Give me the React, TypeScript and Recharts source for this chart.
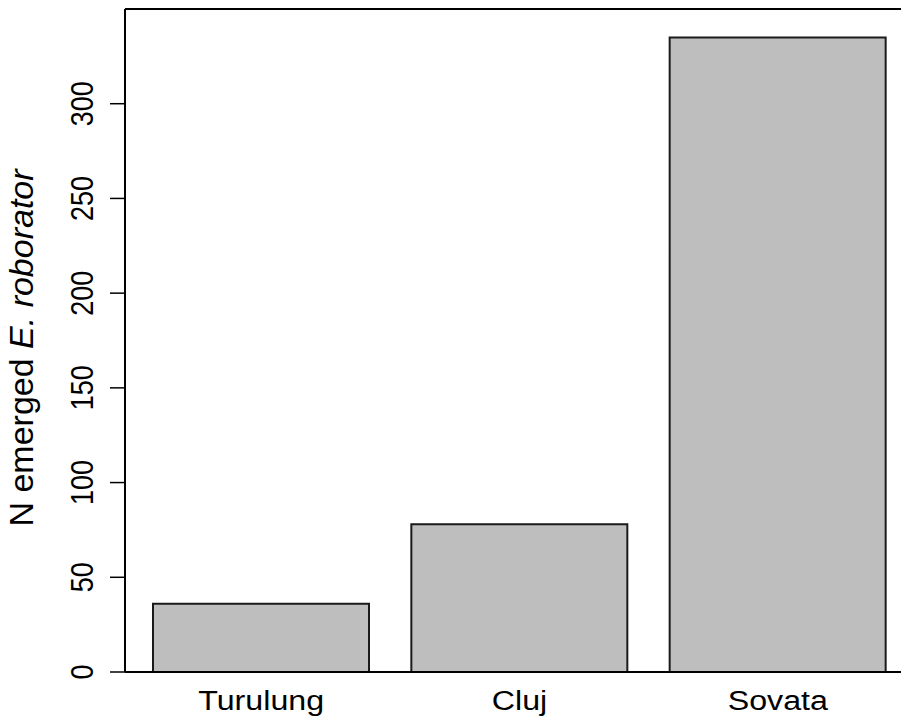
import { BarChart, Bar, XAxis, YAxis, ReferenceLine } from 'recharts';

const sites = ['Turulung', 'Cluj', 'Sovata'];
const emerged = [36, 78, 335];
const yTicks = [0, 50, 100, 150, 200, 250, 300];

const data = sites.map((site, i) => ({ site, n: emerged[i] }));

const FONT = '"Liberation Sans", Arial, Helvetica, sans-serif';

// the reference is slightly stretched sideways, so the labels are too
function YTick(props: any) {
  const { x, y, payload } = props;
  const bx = x - 15;
  return (
    <text
      transform={`translate(${bx}, ${y}) scale(1.15, 1) rotate(-90)`}
      textAnchor="middle"
      fontSize={27}
      fontFamily={FONT}
      fill="#000"
    >
      {payload.value}
    </text>
  );
}

function XTick(props: any) {
  const { x, y, payload } = props;
  return (
    <text
      transform={`translate(${x}, ${y + 38}) scale(1.15, 1)`}
      textAnchor="middle"
      fontSize={28}
      fontFamily={FONT}
      fill="#000"
    >
      {payload.value}
    </text>
  );
}

export default function App() {
  return (
    <div
      style={{
        position: 'absolute',
        left: 0,
        top: 0,
        width: 901,
        height: 722,
        overflow: 'hidden',
        background: '#fff',
      }}
    >
      <BarChart
        width={920}
        height={722}
        data={data}
        margin={{ top: 9, right: 6, bottom: 20, left: 0 }}
        barCategoryGap={21}
      >
        <XAxis
          dataKey="site"
          height={30}
          padding={{ left: 7, right: 7 }}
          tickLine={false}
          tickSize={0}
          tickMargin={0}
          axisLine={{ stroke: '#000', strokeWidth: 2 }}
          tick={<XTick />}
        />
        <YAxis
          width={125}
          type="number"
          domain={[0, 350]}
          ticks={yTicks}
          allowDataOverflow
          tickSize={15}
          tickLine={{ stroke: '#000', strokeWidth: 1.5 }}
          axisLine={{ stroke: '#000', strokeWidth: 2 }}
          tick={<YTick />}
        />
        <ReferenceLine y={350} stroke="#000" strokeWidth={2} />
        <Bar
          dataKey="n"
          fill="#bebebe"
          stroke="#1a1a1a"
          strokeWidth={2}
          isAnimationActive={false}
        />
        <text
          transform="translate(33, 348) rotate(-90)"
          textAnchor="middle"
          fontSize={34}
          fontFamily={FONT}
          fill="#000"
        >
          N emerged <tspan fontStyle="italic">E. roborator</tspan>
        </text>
      </BarChart>
    </div>
  );
}
